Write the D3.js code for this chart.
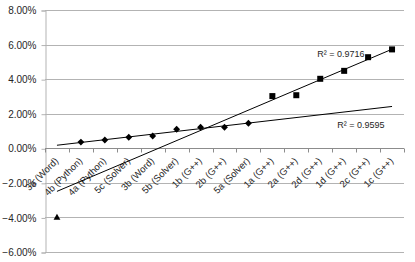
<!DOCTYPE html>
<html>
<head>
<meta charset="utf-8">
<script src="https://cdn.jsdelivr.net/npm/d3@7"></script>
<style>
  html, body { margin: 0; padding: 0; background: #fff; }
  svg { display: block; font-family: "Liberation Sans", Arial, sans-serif; }
</style>
</head>
<body>
<div id="chart"></div>
<script>
// Categories along the x axis
const categories = ['3a (Word)', '4b (Python)', '4a (Python)', '5c (Solver)', '3b (Word)',
  '5b (Solver)', '1b (G++)', '2b (G++)', '5a (Solver)', '1a (G++)', '2a (G++)',
  '2d (G++)', '1d (G++)', '2c (G++)', '1c (G++)'];

// Series values in percent (null = no point)
const diamondValues = [null, 0.36, 0.48, 0.64, 0.71, 1.10, 1.22, 1.22, 1.45,
  null, null, null, null, null, null];
const squareValues = [null, null, null, null, null, null, null, null, null,
  3.02, 3.07, 4.02, 4.48, 5.27, 5.72];
const triangleValues = [-4.02, null, null, null, null, null, null, null, null,
  null, null, null, null, null, null];

const yTicks = [-6, -4, -2, 0, 2, 4, 6, 8];
const rSquaredLabels = ['R\u00b2 = 0.9716', 'R\u00b2 = 0.9595'];

const W = 415, H = 262;
const plot = { left: 45, right: 404, top: 10, bottom: 252 };
const textColor = '#262626';

const svg = d3.select('#chart').append('svg')
  .attr('width', W)
  .attr('height', H);

const x = d3.scaleBand().domain(categories).range([plot.left, plot.right]);
const y = d3.scaleLinear().domain([-6, 8]).range([plot.bottom, plot.top]);
const cx = i => x(categories[i]) + x.bandwidth() / 2;

// Gridlines
svg.append('g')
  .selectAll('line')
  .data(yTicks)
  .join('line')
  .attr('x1', plot.left)
  .attr('x2', plot.right)
  .attr('y1', d => Math.round(y(d)) + 0.5)
  .attr('y2', d => Math.round(y(d)) + 0.5)
  .attr('stroke', '#b3b3b3')
  .attr('stroke-width', 1);

// Y axis
const yAxis = svg.append('g')
  .attr('transform', `translate(${plot.left + 0.5},0.5)`)
  .call(d3.axisLeft(y).tickValues(yTicks).tickSize(4).tickPadding(5)
    .tickFormat(d => d3.format('.2f')(d) + '%'));
yAxis.select('.domain').attr('stroke', '#b3b3b3');
yAxis.selectAll('.tick line').attr('stroke', '#b3b3b3');
yAxis.selectAll('.tick text')
  .attr('fill', textColor)
  .attr('font-size', '10px')
  .attr('font-family', '"Liberation Sans", Arial, sans-serif');

// X axis at 0%
const y0 = Math.round(y(0)) + 0.5;
svg.append('line')
  .attr('x1', plot.left).attr('x2', plot.right)
  .attr('y1', y0).attr('y2', y0)
  .attr('stroke', '#8c8c8c');

// ticks between categories
svg.append('g')
  .selectAll('line')
  .data(d3.range(categories.length + 1))
  .join('line')
  .attr('x1', i => Math.round(plot.left + i * x.bandwidth()) + 0.5)
  .attr('x2', i => Math.round(plot.left + i * x.bandwidth()) + 0.5)
  .attr('y1', y0)
  .attr('y2', y0 + 4)
  .attr('stroke', '#8c8c8c');

// rotated category labels
svg.append('g')
  .selectAll('text')
  .data(categories)
  .join('text')
  .attr('transform', (d, i) => `translate(${cx(i) + 2},${y0 + 13}) rotate(-45)`)
  .attr('text-anchor', 'end')
  .attr('fill', textColor)
  .attr('font-size', '9.5px')
  .text(d => d);

// Linear trendline over category index (1-based, as a spreadsheet does)
function trend(values) {
  const pts = values.map((v, i) => [i + 1, v]).filter(p => p[1] !== null);
  const mx = d3.mean(pts, p => p[0]);
  const my = d3.mean(pts, p => p[1]);
  const slope = d3.sum(pts, p => (p[0] - mx) * (p[1] - my)) /
    d3.sum(pts, p => (p[0] - mx) ** 2);
  return k => my + slope * (k - mx);
}

const trendLine = d3.line()
  .x(d => cx(d[0] - 1))
  .y(d => y(d[1]));

[diamondValues, squareValues].forEach(vals => {
  const f = trend(vals);
  const n = categories.length;
  svg.append('path')
    .attr('d', trendLine([[1, f(1)], [n, f(n)]]))
    .attr('fill', 'none')
    .attr('stroke', '#000')
    .attr('stroke-width', 1);
});

// Markers
function drawMarkers(values, type, size) {
  svg.append('g')
    .selectAll('path')
    .data(values.map((v, i) => ({ v, i })).filter(d => d.v !== null))
    .join('path')
    .attr('transform', d => `translate(${cx(d.i)},${y(d.v)})`)
    .attr('d', d3.symbol().type(type).size(size))
    .attr('fill', '#000');
}
drawMarkers(diamondValues, d3.symbolDiamond2, 30);
drawMarkers(squareValues, d3.symbolSquare, 36);
drawMarkers(triangleValues, d3.symbolTriangle, 20);

// R² labels
svg.append('text')
  .attr('x', cx(11) - 3)
  .attr('y', y(5.3))
  .attr('fill', textColor)
  .attr('font-size', '9px')
  .text(rSquaredLabels[0]);

svg.append('text')
  .attr('x', cx(12) - 7)
  .attr('y', y(1.15))
  .attr('fill', textColor)
  .attr('font-size', '9px')
  .text(rSquaredLabels[1]);
</script>
</body>
</html>
